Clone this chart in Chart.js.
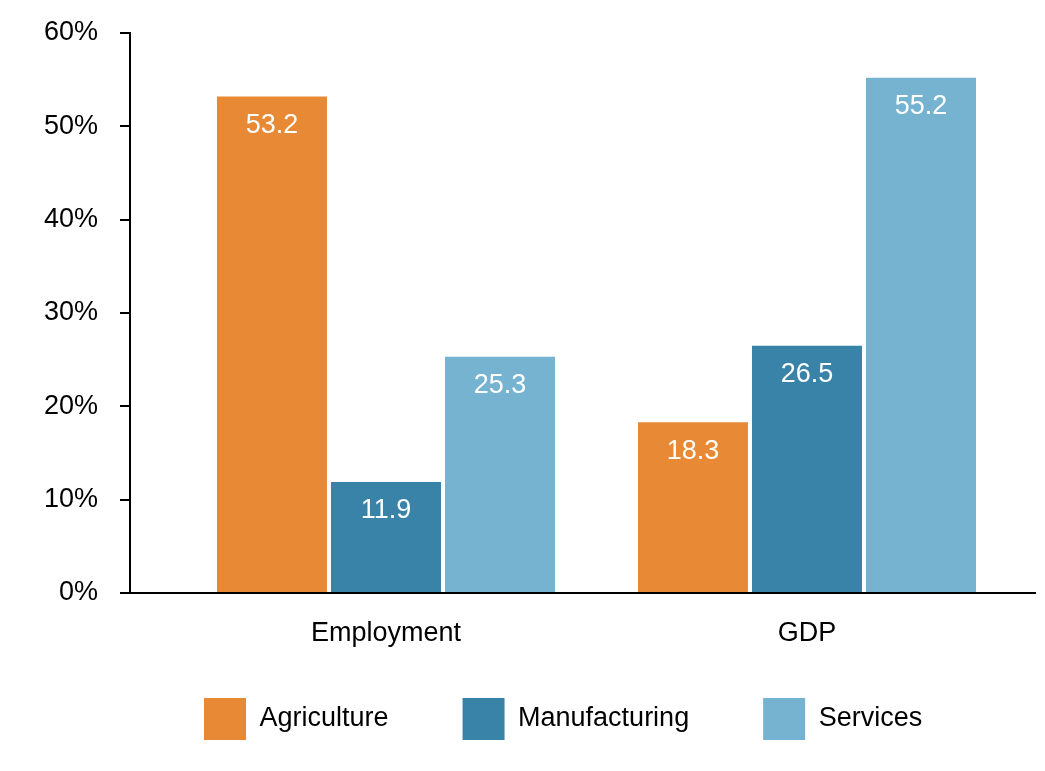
<!DOCTYPE html>
<html>
<head>
<meta charset="utf-8">
<script src="https://cdn.jsdelivr.net/npm/chart.js@4.4.1/dist/chart.umd.min.js"></script>
<style>
  html, body { margin: 0; padding: 0; background: #ffffff; }
  #wrap { width: 1045px; height: 771px; }
</style>
</head>
<body>
<div id="wrap"><canvas id="c" width="1045" height="771"></canvas></div>
<script>
const categories = ['Employment', 'GDP'];
const seriesNames = ['Agriculture', 'Manufacturing', 'Services'];
const agriculture = [53.2, 18.3];
const manufacturing = [11.9, 26.5];
const services = [25.3, 55.2];
const yTicks = [0, 10, 20, 30, 40, 50, 60];
const colors = ['#E78935', '#3A83A8', '#75B3D0'];

const FONT = "'Liberation Sans', Arial, Helvetica, sans-serif";
const seriesValues = [agriculture, manufacturing, services];

const datasets = seriesNames.map((name, s) => ({
  label: name,
  data: seriesValues[s].map((v, i) => ({ x: i, y: v })),
  backgroundColor: colors[s],
  borderWidth: 0,
  categoryPercentage: 0.8124,
  barPercentage: 0.9649
}));

const valueLabels = {
  id: 'valueLabels',
  afterDatasetsDraw(chart) {
    const ctx = chart.ctx;
    ctx.save();
    ctx.fillStyle = '#ffffff';
    ctx.font = '27px ' + FONT;
    ctx.textAlign = 'center';
    ctx.textBaseline = 'middle';
    chart.data.datasets.forEach((ds, di) => {
      const meta = chart.getDatasetMeta(di);
      meta.data.forEach((el, i) => {
        ctx.fillText(seriesValues[di][i].toFixed(1), el.x, el.y + 29);
      });
    });
    ctx.restore();
  }
};

// move the legend row up so it sits below the category labels as in the reference
const legendShift = {
  id: 'legendShift',
  afterLayout(chart) {
    const lg = chart.legend;
    if (lg) { lg.top -= 29; lg.bottom -= 29; }
  }
};

new Chart(document.getElementById('c'), {
  type: 'bar',
  data: { datasets },
  options: {
    responsive: false,
    animation: false,
    devicePixelRatio: 1,
    layout: { padding: { left: 44, right: 10, top: 33, bottom: 0 } },
    plugins: {
      legend: {
        position: 'bottom',
        fullSize: false,
        align: 'start',
        maxHeight: 118,
        labels: {
          boxWidth: 42,
          boxHeight: 42,
          padding: 74,
          color: '#000000',
          font: { family: FONT, size: 27 }
        }
      },
      tooltip: { enabled: false }
    },
    scales: {
      x: {
        type: 'linear',
        offset: false,
        min: -0.608,
        max: 1.5416,
        grid: { display: false, drawTicks: false, offset: false },
        border: { display: true, color: '#000000', width: 2 },
        afterBuildTicks: (scale) => { scale.ticks = categories.map((c, i) => ({ value: i })); },
        afterFit: (scale) => { scale.height = 60; },
        ticks: {
          autoSkip: false,
          maxRotation: 0,
          padding: 24,
          color: '#000000',
          font: { family: FONT, size: 27 },
          callback: (v) => categories[v]
        }
      },
      y: {
        min: 0,
        max: 60,
        afterBuildTicks: (scale) => { scale.ticks = yTicks.map(v => ({ value: v })); },
        afterFit: (scale) => { scale.width = 86; scale.paddingTop = 0; scale.paddingBottom = 0; },
        grid: { drawOnChartArea: false, drawTicks: true, tickLength: 10, color: '#000000', lineWidth: 2 },
        border: { display: true, color: '#000000', width: 2 },
        ticks: {
          padding: 22,
          color: '#000000',
          font: { family: FONT, size: 27 },
          callback: (v) => v + '%'
        }
      }
    }
  },
  plugins: [valueLabels, legendShift]
});
</script>
</body>
</html>
